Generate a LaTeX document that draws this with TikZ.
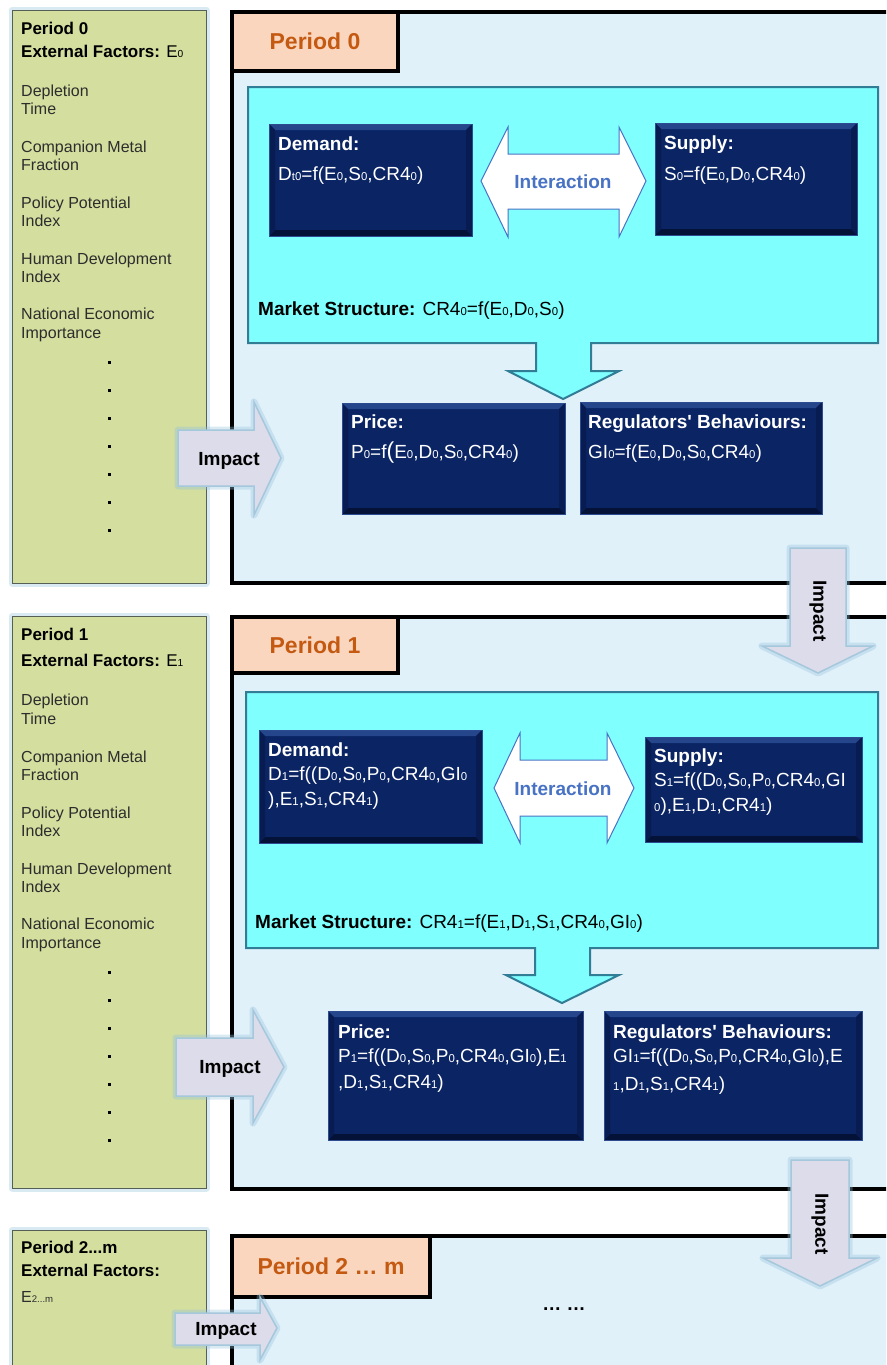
\documentclass[tikz,border=0pt]{standalone}
\usepackage{fontspec}
\setmainfont{Liberation Sans}
\usepackage{graphicx}
\newcommand\lo[1]{\raisebox{-0.6pt}{\scalebox{0.6}{#1}}}
\newcommand\fsz[1]{\fontsize{#1}{#1}\selectfont}
\definecolor{panelgreen}{RGB}{211,222,159}
\definecolor{panelline}{RGB}{85,95,85}
\definecolor{glowc}{RGB}{150,195,220}
\definecolor{framebg}{RGB}{224,241,250}
\definecolor{peach}{RGB}{251,214,190}
\definecolor{hdrorange}{RGB}{196,89,17}
\definecolor{cyanbox}{RGB}{128,255,255}
\definecolor{tealline}{RGB}{49,125,150}
\definecolor{navyfill}{RGB}{10,36,100}
\definecolor{navytop}{RGB}{38,70,140}
\definecolor{navybot}{RGB}{5,18,55}
\definecolor{navyside}{RGB}{8,28,82}
\definecolor{navyedge}{RGB}{45,75,145}
\definecolor{iblue}{RGB}{72,114,196}
\definecolor{lav}{RGB}{220,220,234}
\definecolor{lavline}{RGB}{165,200,220}
\definecolor{txtgray}{RGB}{45,45,45}
\newcommand\navyrect[4]{%
 \fill[navyfill] (#1,#2) rectangle (#3,#4);
 \fill[navytop] (#1,#2) -- (#3,#2) -- ({#3-6},{#2+6}) -- ({#1+6},{#2+6}) -- cycle;
 \fill[navybot] (#1,#4) -- (#3,#4) -- ({#3-6},{#4-6}) -- ({#1+6},{#4-6}) -- cycle;
 \fill[navyside] (#1,#2) -- ({#1+6},{#2+6}) -- ({#1+6},{#4-6}) -- (#1,#4) -- cycle;
 \fill[navyside] (#3,#2) -- ({#3-6},{#2+6}) -- ({#3-6},{#4-6}) -- (#3,#4) -- cycle;
 \draw[navyedge, line width=1pt] (#1,#2) rectangle (#3,#4);
}
\tikzset{
 panelbox/.style={fill=panelgreen, draw=panelline, line width=1pt},
 glowline/.style={draw=glowc, line width=7pt, opacity=0.35, line join=round},
 framebox/.style={fill=framebg, draw=black, line width=4pt},
 hdrbox/.style={fill=peach, draw=black, line width=4pt},
 mktbox/.style={fill=cyanbox, draw=tealline, line width=2pt, line join=miter},
 iarrow/.style={fill=white, draw=iblue, line width=1pt, line join=miter},
 imparrow/.style={fill=lav, draw=lavline, line width=1.5pt, line join=miter},
 ltxt/.style={anchor=base west, inner sep=0, text=txtgray, font=\fsz{16}},
 lbold/.style={anchor=base west, inner sep=0, text=black, font=\fsz{17}\bfseries},
 hdrtxt/.style={anchor=base, inner sep=0, text=hdrorange, font=\fsz{23}\bfseries},
 wtitle/.style={anchor=base west, inner sep=0, text=white, font=\fsz{19}\bfseries},
 wtxt/.style={anchor=base west, inner sep=0, text=white, font=\fsz{19}},
 itxt/.style={anchor=base, inner sep=0, text=iblue, font=\fsz{19}\bfseries},
 imptxt/.style={anchor=base, inner sep=0, text=black, font=\fsz{19}\bfseries},
 vimptxt/.style={anchor=center, inner sep=0, text=black, font=\fsz{19}\bfseries, rotate=-90},
 mtxt/.style={anchor=base west, inner sep=0, text=black, font=\fsz{19}},
}
\begin{document}
\begin{tikzpicture}[x=1pt,y=-1pt]
\path[use as bounding box] (0,0) rectangle (886,1365);
\clip (0,0) rectangle (886,1365);
\fill[white] (0,0) rectangle (886,1365);

%% ---------- left panels ----------
\draw[glowline] (12,10) rectangle (206,583);
\draw[panelbox] (12,10) rectangle (206,583);
\draw[glowline] (12,616) rectangle (206,1188);
\draw[panelbox] (12,616) rectangle (206,1188);
\draw[glowline] (12,1230) rectangle (206,1400);
\draw[panelbox] (12,1230) rectangle (206,1400);

% panel 0 text
\node[lbold] (l0a) at (21,34) {Period 0};
\node[lbold] (l0b) at (21,57) {External Factors: \mdseries E\lo{0}};
\node[ltxt] (l0c) at (21,96) {Depletion};
\node[ltxt] (l0d) at (21,114) {Time};
\node[ltxt] (l0e) at (21,152) {Companion Metal};
\node[ltxt] (l0f) at (21,170) {Fraction};
\node[ltxt] (l0g) at (21,208) {Policy Potential};
\node[ltxt] (l0h) at (21,226) {Index};
\node[ltxt] (l0i) at (21,264) {Human Development};
\node[ltxt] (l0j) at (21,282) {Index};
\node[ltxt] (l0k) at (21,319) {National Economic};
\node[ltxt] (l0l) at (21,338) {Importance};
\foreach \k in {0,...,6} \fill[black] ({107.5},{360.5+28*\k}) rectangle ++(3,3);

% panel 1 text
\node[lbold] (l1a) at (21,640) {Period 1};
\node[lbold] (l1b) at (21,666) {External Factors: \mdseries E\lo{1}};
\node[ltxt] (l1c) at (21,705) {Depletion};
\node[ltxt] (l1d) at (21,724) {Time};
\node[ltxt] (l1e) at (21,762) {Companion Metal};
\node[ltxt] (l1f) at (21,780) {Fraction};
\node[ltxt] (l1g) at (21,818) {Policy Potential};
\node[ltxt] (l1h) at (21,836) {Index};
\node[ltxt] (l1i) at (21,874) {Human Development};
\node[ltxt] (l1j) at (21,892) {Index};
\node[ltxt] (l1k) at (21,929) {National Economic};
\node[ltxt] (l1l) at (21,948) {Importance};
\foreach \k in {0,...,6} \fill[black] ({107.5},{970.5+28*\k}) rectangle ++(3,3);

% panel 2 text
\node[lbold] (l2a) at (21,1253) {Period 2...m};
\node[lbold] (l2b) at (21,1276) {External Factors:};
\node[ltxt] (l2c) at (21,1302) {E\lo{2...m}};

%% ---------- period frames ----------
\draw[framebox] (232,12) rectangle (910,583);
\draw[hdrbox] (232,12) rectangle (398,71);
\node[hdrtxt] (h0) at (315,49) {Period 0};

\draw[framebox] (232,617) rectangle (910,1189);
\draw[hdrbox] (232,617) rectangle (398,673);
\node[hdrtxt] (h1) at (315,653) {Period 1};

\draw[framebox] (232,1236) rectangle (910,1420);
\draw[hdrbox] (232,1236) rectangle (430,1297);
\node[hdrtxt] (h2) at (331,1274) {Period 2 … m};
\node[imptxt] (dots) at (564,1310) {… …};

%% ---------- period 0 content ----------
\draw[mktbox] (248,87) -- (878,87) -- (878,343) -- (591,343) -- (591,371) -- (619,371)
  -- (563,399) -- (508,371) -- (536,371) -- (536,343) -- (248,343) -- cycle;
\navyrect{269}{124}{472}{236}
\navyrect{655}{123}{857}{235}
\node[wtitle] (d0t) at (278,150) {Demand:};
\node[wtxt] (d0f) at (278,180) {D\lo{t0}=f(E\lo{0},S\lo{0},CR4\lo{0})};
\node[wtitle] (s0t) at (664,149) {Supply:};
\node[wtxt] (s0f) at (664,180) {S\lo{0}=f(E\lo{0},D\lo{0},CR4\lo{0})};
\draw[iarrow] (481,181) -- (508,127) -- (508,154) -- (619,154) -- (619,127) -- (646,181)
  -- (619,237) -- (619,209) -- (508,209) -- (508,237) -- cycle;
\node[itxt] (i0) at (563,188) {Interaction};
\node[mtxt] (m0) at (258,315) {\bfseries Market Structure: \mdseries CR4\lo{0}=f(E\lo{0},D\lo{0},S\lo{0})};

\navyrect{342}{403}{565}{514}
\navyrect{580}{402}{822}{514}
\node[wtitle] (p0t) at (351,428) {Price:};
\node[wtxt] (p0f) at (351,458) {P\lo{0}=f{\fsz{23}(}E\lo{0},D\lo{0},S\lo{0},CR4\lo{0})};
\node[wtitle] (r0t) at (588,428) {Regulators\textquotesingle{} Behaviours:};
\node[wtxt] (r0f) at (588,458) {GI\lo{0}=f(E\lo{0},D\lo{0},S\lo{0},CR4\lo{0})};

% left impact arrow 0
\draw[glowline] (178,430) -- (254,430) -- (254,402) -- (281,458) -- (254,515) -- (254,486) -- (178,486) -- cycle;
\draw[imparrow] (178,430) -- (254,430) -- (254,402) -- (281,458) -- (254,515) -- (254,486) -- (178,486) -- cycle;
\node[imptxt] (imp0) at (229,465) {Impact};

%% ---------- period 1 content ----------
\draw[mktbox] (246,692) -- (878,692) -- (878,948) -- (590,948) -- (590,975) -- (619,975)
  -- (562,1003) -- (506,975) -- (535,975) -- (535,948) -- (246,948) -- cycle;
\navyrect{259}{730}{482}{843}
\navyrect{645}{737}{862}{842}
\node[wtitle] (d1t) at (268,756) {Demand:};
\node[wtxt] (d1f) at (268,780) {D\lo{1}=f((D\lo{0},S\lo{0},P\lo{0},CR4\lo{0},GI\lo{0}};
\node[wtxt] (d1g) at (268,805) {),E\lo{1},S\lo{1},CR4\lo{1})};
\node[wtitle] (s1t) at (654,762) {Supply:};
\node[wtxt] (s1f) at (654,786) {S\lo{1}=f((D\lo{0},S\lo{0},P\lo{0},CR4\lo{0},GI};
\node[wtxt] (s1g) at (654,811) {\lo{0}),E\lo{1},D\lo{1},CR4\lo{1})};
\draw[iarrow] (494,788) -- (520,733) -- (520,760) -- (607,760) -- (607,733) -- (634,788)
  -- (607,843) -- (607,816) -- (520,816) -- (520,843) -- cycle;
\node[itxt] (i1) at (563,795) {Interaction};
\node[mtxt] (m1) at (255,928) {\bfseries Market Structure: \mdseries CR4\lo{1}=f(E\lo{1},D\lo{1},S\lo{1},CR4\lo{0},GI\lo{0})};

\navyrect{328}{1011}{583}{1140}
\navyrect{604}{1011}{862}{1140}
\node[wtitle] (p1t) at (338,1038) {Price:};
\node[wtxt] (p1f) at (338,1062) {P\lo{1}=f((D\lo{0},S\lo{0},P\lo{0},CR4\lo{0},GI\lo{0}),E\lo{1}};
\node[wtxt] (p1g) at (338,1088) {,D\lo{1},S\lo{1},CR4\lo{1})};
\node[wtitle] (r1t) at (613,1038) {Regulators\textquotesingle{} Behaviours:};
\node[wtxt] (r1f) at (613,1062) {GI\lo{1}=f((D\lo{0},S\lo{0},P\lo{0},CR4\lo{0},GI\lo{0}),E};
\node[wtxt] (r1g) at (613,1090) {\lo{1},D\lo{1},S\lo{1},CR4\lo{1})};

% left impact arrow 1
\draw[glowline] (176,1038) -- (253,1038) -- (253,1010) -- (284,1067) -- (253,1123) -- (253,1096) -- (176,1096) -- cycle;
\draw[imparrow] (176,1038) -- (253,1038) -- (253,1010) -- (284,1067) -- (253,1123) -- (253,1096) -- (176,1096) -- cycle;
\node[imptxt] (imp1) at (230,1073) {Impact};

% left impact arrow 2
\draw[glowline] (175,1313) -- (260,1313) -- (260,1297) -- (277,1328) -- (260,1360) -- (260,1345) -- (175,1345) -- cycle;
\draw[imparrow] (175,1313) -- (260,1313) -- (260,1297) -- (277,1328) -- (260,1360) -- (260,1345) -- (175,1345) -- cycle;
\node[imptxt] (imp2) at (226,1335) {Impact};

%% ---------- vertical impact arrows ----------
\draw[glowline] (790,548) -- (846,548) -- (846,646) -- (873,646) -- (818,673) -- (762,646) -- (790,646) -- cycle;
\draw[imparrow] (790,548) -- (846,548) -- (846,646) -- (873,646) -- (818,673) -- (762,646) -- (790,646) -- cycle;
\node[vimptxt] (v0) at (818,611) {Impact};

\draw[glowline] (791,1160) -- (849,1160) -- (849,1258) -- (877,1258) -- (820,1286) -- (763,1258) -- (791,1258) -- cycle;
\draw[imparrow] (791,1160) -- (849,1160) -- (849,1258) -- (877,1258) -- (820,1286) -- (763,1258) -- (791,1258) -- cycle;
\node[vimptxt] (v1) at (820,1224) {Impact};
\end{tikzpicture}
\end{document}
